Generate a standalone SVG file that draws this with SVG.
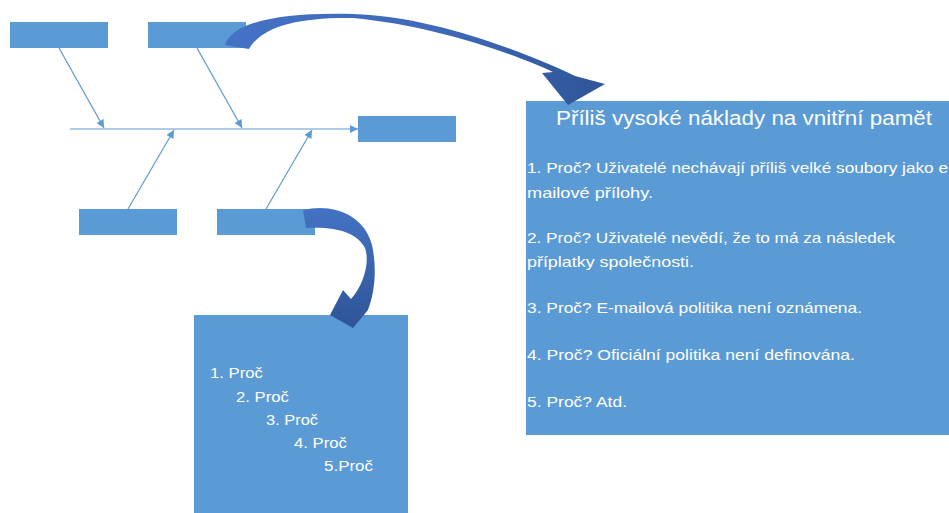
<svg xmlns="http://www.w3.org/2000/svg" width="949" height="513" viewBox="0 0 949 513">
  <style>
    .box { fill: #5B9BD5; }
    .bone { stroke: #5B9BD5; stroke-width: 1.2; fill: none; marker-end: url(#tri); }
    .txt { font-family: "Liberation Sans", Arial, sans-serif; fill: #FFFFFF; }
    .title { font-size: 19.5px; }
    .body { font-size: 15px; }
  </style>
  <defs>
    <marker id="tri" viewBox="0 0 10 10" refX="10" refY="5" markerWidth="9" markerHeight="8" markerUnits="userSpaceOnUse" orient="auto">
      <path d="M0,0 L10,5 L0,10 z" fill="#5B9BD5"/>
    </marker>
    <linearGradient id="bigFlow" x1="225" y1="0" x2="605" y2="0" gradientUnits="userSpaceOnUse">
      <stop offset="0" stop-color="#4472C4"/>
      <stop offset="0.55" stop-color="#3F69BA"/>
      <stop offset="1" stop-color="#2F5597"/>
    </linearGradient>
    <linearGradient id="smallFlow" x1="0" y1="208" x2="0" y2="328" gradientUnits="userSpaceOnUse">
      <stop offset="0" stop-color="#4472C4"/>
      <stop offset="1" stop-color="#2F5597"/>
    </linearGradient>
  </defs>

  <!-- cause boxes -->
  <g id="cause-1"><rect class="box" x="10" y="22" width="98" height="26"/></g>
  <g id="cause-2"><rect class="box" x="148" y="22" width="98" height="26"/></g>
  <g id="cause-3"><rect class="box" x="79" y="209" width="98" height="26"/></g>
  <g id="cause-4"><rect class="box" x="217" y="209" width="98" height="26"/></g>

  <!-- effect (head of the fishbone) -->
  <g id="effect"><rect class="box" x="358" y="116" width="98" height="26"/></g>

  <!-- detail panel for the upper cause -->
  <g id="detail-main">
    <rect class="box" x="526" y="101" width="430" height="334"/>
    <text class="txt title" x="556" y="125" textLength="376" lengthAdjust="spacingAndGlyphs">Příliš vysoké náklady na vnitřní pamět</text>
    <text class="txt body" x="527" y="173" textLength="421" lengthAdjust="spacingAndGlyphs">1. Proč? Uživatelé nechávají příliš velké soubory jako e</text>
    <text class="txt body" x="527" y="198" textLength="126" lengthAdjust="spacingAndGlyphs">mailové přílohy.</text>
    <text class="txt body" x="527" y="243" textLength="368" lengthAdjust="spacingAndGlyphs">2. Proč? Uživatelé nevědí, že to má za následek</text>
    <text class="txt body" x="527" y="267" textLength="167" lengthAdjust="spacingAndGlyphs">příplatky společnosti.</text>
    <text class="txt body" x="527" y="313" textLength="335" lengthAdjust="spacingAndGlyphs">3. Proč? E-mailová politika není oznámena.</text>
    <text class="txt body" x="527" y="360" textLength="328" lengthAdjust="spacingAndGlyphs">4. Proč? Oficiální politika není definována.</text>
    <text class="txt body" x="527" y="407" textLength="100" lengthAdjust="spacingAndGlyphs">5. Proč? Atd.</text>
  </g>

  <!-- detail panel for the lower cause -->
  <g id="detail-small">
    <rect class="box" x="194" y="315" width="214" height="198"/>
    <text class="txt body" x="210" y="378" textLength="53" lengthAdjust="spacingAndGlyphs">1. Proč</text>
    <text class="txt body" x="236" y="402" textLength="53" lengthAdjust="spacingAndGlyphs">2. Proč</text>
    <text class="txt body" x="266" y="425" textLength="52" lengthAdjust="spacingAndGlyphs">3. Proč</text>
    <text class="txt body" x="294" y="448" textLength="53" lengthAdjust="spacingAndGlyphs">4. Proč</text>
    <text class="txt body" x="324" y="471" textLength="49" lengthAdjust="spacingAndGlyphs">5.Proč</text>
  </g>

  <!-- connectors -->
  <g id="connectors">
    <line class="bone" x1="70" y1="129" x2="358" y2="129"/>
    <line class="bone" x1="59" y1="48" x2="104" y2="128"/>
    <line class="bone" x1="197" y1="48" x2="242" y2="128"/>
    <line class="bone" x1="128" y1="209" x2="174" y2="130"/>
    <line class="bone" x1="266" y1="209" x2="312" y2="130"/>

    <!-- curved callout arrows -->
    <path fill="url(#bigFlow)" d="M225,45 C232,22 280,12 353,14 C430,16 520,50 575,76 L605,84 L568,105 L542,73 L553,72 C510,52 430,25 353,18 C300,17 262,26 249,49 Z"/>
    <path fill="url(#smallFlow)" d="M303,210 C330,203 364,213 372,245 C377,268 375,292 368,310 L353,328 L330,315 L343,290 L351,299 C364,284 370,262 365,248 C357,232 335,226 306,228 Z"/>
  </g>
</svg>
